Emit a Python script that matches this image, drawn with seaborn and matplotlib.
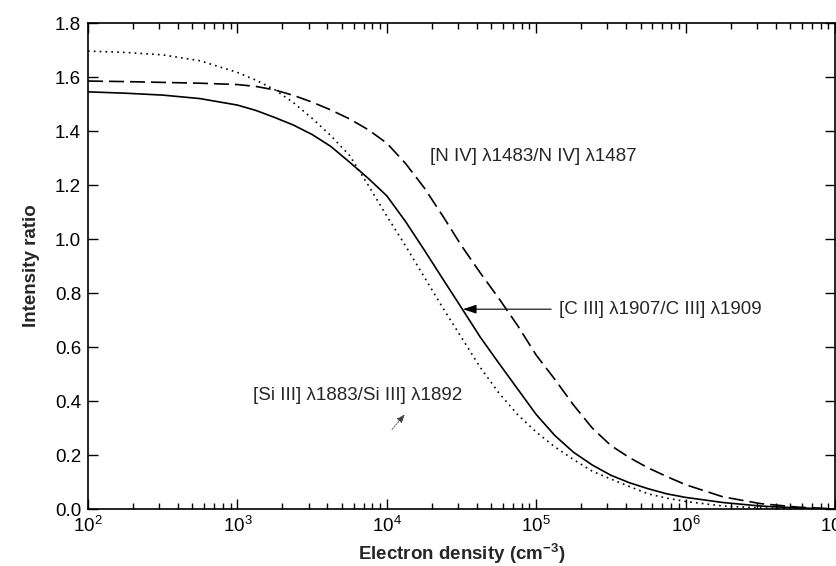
import numpy as np
import pandas as pd
import matplotlib
matplotlib.use("Agg")
import matplotlib.pyplot as plt
import seaborn as sns
from matplotlib.ticker import LogLocator, FixedLocator, FormatStrFormatter, NullFormatter

# ---- data (x = log10 electron density) ----
log_ne = [2.0, 2.25, 2.5, 2.75, 3.0, 3.125, 3.25, 3.375, 3.5, 3.625, 3.75, 3.875,
          4.0, 4.125, 4.25, 4.375, 4.5, 4.625, 4.75, 4.875, 5.0, 5.125, 5.25,
          5.375, 5.5, 5.625, 5.75, 5.875, 6.0, 6.25, 6.5, 6.75, 7.0]
ratio_c3 = [1.545, 1.540, 1.533, 1.520, 1.496, 1.476, 1.450, 1.422, 1.387, 1.343,
            1.285, 1.225, 1.160, 1.065, 0.960, 0.852, 0.745, 0.637, 0.540, 0.445,
            0.350, 0.272, 0.210, 0.163, 0.125, 0.097, 0.075, 0.056, 0.043, 0.024,
            0.011, 0.004, 0.0]
ratio_n4 = [1.585, 1.583, 1.580, 1.577, 1.572, 1.565, 1.552, 1.532, 1.507, 1.478,
            1.445, 1.405, 1.355, 1.280, 1.190, 1.085, 0.975, 0.875, 0.780, 0.680,
            0.570, 0.480, 0.385, 0.300, 0.235, 0.190, 0.152, 0.120, 0.090, 0.045,
            0.020, 0.007, 0.0]
ratio_si3 = [1.696, 1.691, 1.682, 1.660, 1.617, 1.588, 1.553, 1.505, 1.447, 1.383,
             1.310, 1.200, 1.085, 0.975, 0.860, 0.745, 0.635, 0.525, 0.430, 0.350,
             0.285, 0.230, 0.183, 0.140, 0.111, 0.083, 0.056, 0.040, 0.028, 0.011,
             0.004, 0.001, 0.0]
series_names = ["C III", "N IV", "Si III"]
y_ticks = [0.0, 0.2, 0.4, 0.6, 0.8, 1.0, 1.2, 1.4, 1.6, 1.8]

label_c3 = "[C III] \u03bb1907/C III] \u03bb1909"
label_n4 = "[N IV] \u03bb1483/N IV] \u03bb1487"
label_si3 = "[Si III] \u03bb1883/Si III] \u03bb1892"

dens = [10 ** v for v in log_ne]
df = pd.concat([
    pd.DataFrame({"ne": dens, "ratio": ratio_c3, "line": series_names[0]}),
    pd.DataFrame({"ne": dens, "ratio": ratio_n4, "line": series_names[1]}),
    pd.DataFrame({"ne": dens, "ratio": ratio_si3, "line": series_names[2]}),
], ignore_index=True)

sns.set_style("ticks")
plt.rcParams["font.family"] = ["Liberation Sans", "DejaVu Sans"]
plt.rcParams["mathtext.fontset"] = "custom"
plt.rcParams["mathtext.rm"] = "Liberation Sans"
plt.rcParams["mathtext.bf"] = "Liberation Sans:bold"
plt.rcParams["mathtext.it"] = "Liberation Sans:italic"
plt.rcParams["mathtext.default"] = "regular"

FS = 13.5

fig = plt.figure(figsize=(8.36, 5.66), dpi=100)
ax = fig.add_axes([88 / 836, 57 / 566, 747 / 836, 486 / 566])

sns.lineplot(data=df, x="ne", y="ratio", style="line",
             style_order=series_names,
             dashes={"C III": "", "N IV": (9, 3.6), "Si III": (1, 2.5)},
             color="black", linewidth=1.2, legend=False, ax=ax,
             estimator=None, sort=False)

ax.set_xscale("log")
ax.set_xlim(1e2, 1e7)
ax.set_ylim(0, 1.8)
ax.xaxis.set_major_locator(LogLocator(base=10, numticks=10))
ax.xaxis.set_minor_locator(LogLocator(base=10, subs=np.arange(2, 10), numticks=100))
ax.xaxis.set_minor_formatter(NullFormatter())
ax.yaxis.set_major_locator(FixedLocator(y_ticks))
ax.yaxis.set_major_formatter(FormatStrFormatter("%.1f"))

ax.tick_params(which="both", direction="in", top=True, right=True,
               labelsize=FS, width=1.0, colors="black")
ax.tick_params(which="major", length=7.5, pad=5)
ax.tick_params(which="minor", length=4)
for sp in ax.spines.values():
    sp.set_linewidth(1.2)
    sp.set_color("black")

ax.set_xlabel("Electron density (cm$^{\\mathbf{-3}}$)", fontsize=FS,
              fontweight="bold", labelpad=4)
ax.set_ylabel("Intensity ratio", fontsize=FS, fontweight="bold", labelpad=11)

ax.text(10 ** 4.286, 1.304, label_n4, fontsize=FS, ha="left", va="center")
ax.annotate(label_c3, xy=(10 ** 4.51, 0.74), xytext=(10 ** 5.15, 0.74),
            fontsize=FS, ha="left", va="center",
            arrowprops=dict(arrowstyle="-|>,head_length=0.6,head_width=0.2",
                            color="black", lw=0.8, shrinkA=3, shrinkB=0))
ax.text(10 ** 3.103, 0.422, label_si3, fontsize=FS, ha="left", va="center")
ax.annotate("", xy=(10 ** 4.12, 0.35), xytext=(10 ** 4.035, 0.295),
            arrowprops=dict(arrowstyle="-|>,head_length=0.5,head_width=0.2",
                            color="0.25", lw=0.6, linestyle=(0, (2, 1.5)),
                            shrinkA=0, shrinkB=0))

fig.savefig("out.png", dpi=100)
